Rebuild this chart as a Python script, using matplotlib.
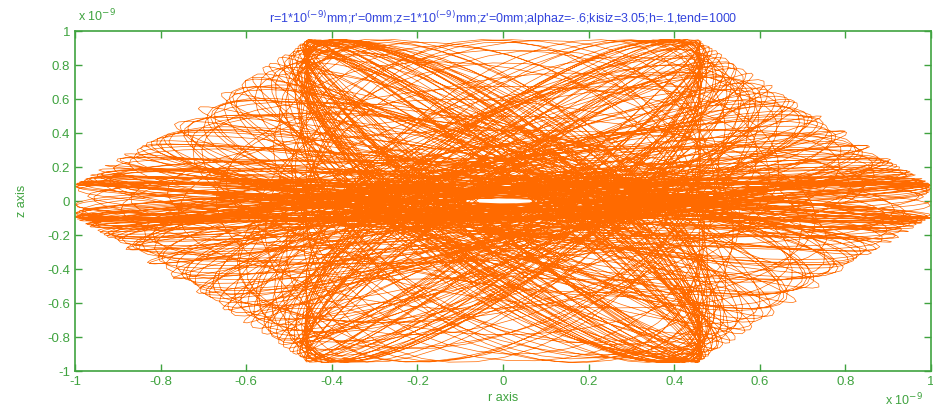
import numpy as np
import matplotlib
matplotlib.use('Agg')
import matplotlib.pyplot as plt

plt.rcParams['font.family'] = ['Liberation Sans', 'DejaVu Sans']

# Simulation settings shown in the title
r0 = 1.0          # x 1e-9 mm
z0 = 1.0          # x 1e-9 mm
alphaz = -0.6
kisiz = 3.05
h = 0.1
tend = 1000

# Envelope values (units of 1e-9)
r_amp_range = [0.46, 1.0]     # radial amplitude (min, max)
z_amp_range = [0.95, 0.10]    # axial amplitude at those radial amplitudes
secular_freq = 1.45
exchange_period = 160.0       # slow r<->z energy exchange
exchange_shape = 1.7          # less time spent at the widest radial swing
phase_period = 113.0          # slow flip of relative phase
phase_spread = 1.2            # relative phase swings pi/2 +- this
wobble_period = 37.0          # small extra drift of the relative phase
wobble_amp = 0.25

xticks = [-1, -0.8, -0.6, -0.4, -0.2, 0, 0.2, 0.4, 0.6, 0.8, 1]
yticks = [-1, -0.8, -0.6, -0.4, -0.2, 0, 0.2, 0.4, 0.6, 0.8, 1]

t = np.arange(0, tend, h)
s = (0.5 * (1 + np.cos(2 * np.pi * t / exchange_period))) ** exchange_shape
Ar = r_amp_range[0] + (r_amp_range[1] - r_amp_range[0]) * s
Az = z_amp_range[0] + (z_amp_range[1] - z_amp_range[0]) * s
psi = (np.pi / 2 - phase_spread * np.tanh(2.5 * np.sin(2 * np.pi * t / phase_period))
       + wobble_amp * np.sin(2 * np.pi * t / wobble_period))
r = Ar * np.cos(secular_freq * t)
z = Az * np.cos(secular_freq * t + psi)

green = '#3fa33f'
fig = plt.figure(figsize=(9.33, 4.08), dpi=100)
ax = fig.add_axes([75/933, 37/408, 856/933, 340/408])
ax.plot(r, z, color='#ff6a00', lw=0.5)
ax.set_xlim(-1, 1)
ax.set_ylim(-1, 1)
ax.set_xticks(xticks)
ax.set_yticks(yticks)
ax.set_xticklabels([f'{v:g}' for v in xticks])
ax.set_yticklabels([f'{v:g}' for v in yticks])
for sp in ax.spines.values():
    sp.set_color(green)
    sp.set_linewidth(1.2)
ax.tick_params(direction='in', colors=green, length=5, width=1, labelsize=9.5,
               top=True, right=True)
ax.set_xlabel('r axis', color=green, fontsize=9, labelpad=3)
ax.set_ylabel('z axis', color=green, fontsize=9, labelpad=14)
ax.set_title("r=1*10$^{(-9)}$mm;r'=0mm;z=1*10$^{(-9)}$mm;z'=0mm;alphaz=-.6;kisiz=3.05;h=.1,tend=1000",
             color='#3344dd', fontsize=9, pad=6)
fig.text(78/933, 1 - 16/408, 'x 10$^{-9}$', color=green, fontsize=9, va='center')
fig.text(885/933, 1 - 400/408, 'x 10$^{-9}$', color=green, fontsize=9, va='center')
fig.savefig('out.png', dpi=100)
